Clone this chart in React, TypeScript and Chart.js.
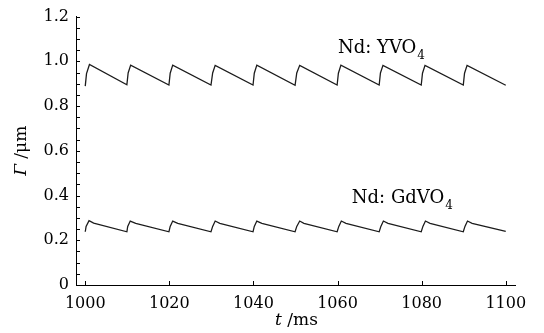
import { useEffect, useRef } from "react";
import { Chart, registerables } from "chart.js";

Chart.register(...registerables);

// ---- data ----
const yvoTimes = [
  1000.0, 1000.3, 1001.0, 1009.9, 1010.2, 1010.8, 1019.9, 1020.2, 1020.8,
  1029.9, 1030.3, 1030.9, 1039.9, 1040.2, 1040.8, 1049.9, 1050.3, 1051.0,
  1059.9, 1060.2, 1060.8, 1069.9, 1070.2, 1070.8, 1079.9, 1080.2, 1080.8,
  1089.9, 1090.2, 1090.8, 1100.0,
];
const yvoValues = [
  0.889, 0.945, 0.986, 0.895, 0.948, 0.983, 0.894, 0.947, 0.983,
  0.894, 0.948, 0.982, 0.894, 0.947, 0.983, 0.893, 0.948, 0.982,
  0.894, 0.947, 0.983, 0.894, 0.948, 0.982, 0.894, 0.947, 0.982,
  0.894, 0.947, 0.982, 0.893,
];

const gdvoTimes = [
  1000.0, 1000.2, 1000.9, 1002.0, 1009.9, 1010.1, 1010.7, 1012.0,
  1019.9, 1020.2, 1020.8, 1022.0, 1029.9, 1030.3, 1030.9, 1032.0,
  1039.9, 1040.2, 1040.8, 1042.0, 1049.9, 1050.3, 1051.0, 1052.0,
  1059.9, 1060.3, 1060.9, 1062.0, 1069.9, 1070.3, 1070.9, 1072.0,
  1079.9, 1080.3, 1080.9, 1082.0, 1089.9, 1090.3, 1090.9, 1092.0,
  1100.0,
];
const gdvoValues = [
  0.238, 0.262, 0.288, 0.277, 0.238, 0.262, 0.286, 0.276,
  0.238, 0.262, 0.286, 0.276, 0.238, 0.262, 0.286, 0.276,
  0.238, 0.262, 0.286, 0.276, 0.238, 0.262, 0.286, 0.276,
  0.238, 0.262, 0.286, 0.276, 0.238, 0.262, 0.286, 0.276,
  0.238, 0.262, 0.286, 0.276, 0.238, 0.262, 0.286, 0.276,
  0.240,
];

const xTickValues = [1000, 1020, 1040, 1060, 1080, 1100];
const yTickValues = [0, 0.2, 0.4, 0.6, 0.8, 1.0, 1.2];
const yTickLabels = ["0", "0.2", "0.4", "0.6", "0.8", "1.0", "1.2"];
const yMinorTickValues = [
  0, 0.05, 0.1, 0.15, 0.2, 0.25, 0.3, 0.35, 0.4, 0.45, 0.5, 0.55, 0.6,
  0.65, 0.7, 0.75, 0.8, 0.85, 0.9, 0.95, 1.0, 1.05, 1.1, 1.15, 1.2,
];

const yvoLabel = { main: "Nd: YVO", sub: "4", t: 1060.1, v: 1.036 };
const gdvoLabel = { main: "Nd: GdVO", sub: "4", t: 1063.4, v: 0.368 };

const xRange = { min: 997.8, max: 1102.2 };
const yRange = { min: 0, max: 1.2 };

const SERIF = "'DejaVu Serif', serif";

const decorPlugin = {
  id: "decor",
  afterDraw(chart: any) {
    const { ctx, chartArea } = chart;
    const x = chart.scales.x;
    const y = chart.scales.y;
    ctx.save();
    // inward ticks
    ctx.strokeStyle = "#000";
    ctx.lineWidth = 1;
    ctx.beginPath();
    for (const v of xTickValues) {
      const px = Math.round(x.getPixelForValue(v)) + 0.5;
      ctx.moveTo(px, chartArea.bottom);
      ctx.lineTo(px, chartArea.bottom - 4);
    }
    for (const v of yMinorTickValues) {
      const py = Math.round(y.getPixelForValue(v)) + 0.5;
      ctx.moveTo(chartArea.left, py);
      ctx.lineTo(chartArea.left + 4, py);
    }
    ctx.stroke();

    ctx.fillStyle = "#000";
    ctx.textBaseline = "alphabetic";

    // series labels
    const drawLabel = (lab: any) => {
      const px = x.getPixelForValue(lab.t);
      const py = y.getPixelForValue(lab.v);
      ctx.font = `18px ${SERIF}`;
      ctx.textAlign = "left";
      ctx.fillText(lab.main, px, py);
      const w = ctx.measureText(lab.main).width;
      ctx.font = `12px ${SERIF}`;
      ctx.fillText(lab.sub, px + w + 1, py + 6);
    };
    drawLabel(yvoLabel);
    drawLabel(gdvoLabel);

    // x axis title: italic t + " /ms"
    {
      ctx.font = `italic 17px ${SERIF}`;
      const a = "t";
      const wa = ctx.measureText(a).width;
      ctx.font = `17px ${SERIF}`;
      const b = " /ms";
      const wb = ctx.measureText(b).width;
      const cx = (chartArea.left + chartArea.right) / 2 + 1;
      const start = cx - (wa + wb) / 2;
      const base = 325;
      ctx.font = `italic 17px ${SERIF}`;
      ctx.fillText(a, start, base);
      ctx.font = `17px ${SERIF}`;
      ctx.fillText(b, start + wa, base);
    }
    // y axis title: italic Γ + " /μm", rotated
    {
      ctx.save();
      ctx.translate(26, (chartArea.top + chartArea.bottom) / 2);
      ctx.rotate(-Math.PI / 2);
      ctx.font = `italic 17px ${SERIF}`;
      const a = "Γ";
      const wa = ctx.measureText(a).width;
      ctx.font = `17px ${SERIF}`;
      const b = " /μm";
      const wb = ctx.measureText(b).width;
      const start = -(wa + wb) / 2;
      ctx.font = `italic 17px ${SERIF}`;
      ctx.fillText(a, start, 0);
      ctx.font = `17px ${SERIF}`;
      ctx.fillText(b, start + wa, 0);
      ctx.restore();
    }
    ctx.restore();
  },
};

export default function App() {
  const ref = useRef<HTMLCanvasElement | null>(null);
  useEffect(() => {
    const canvas = ref.current;
    if (!canvas) return;
    const chart = new Chart(canvas, {
      type: "line",
      data: {
        datasets: [
          {
            label: "Nd: YVO4",
            data: yvoTimes.map((t, i) => ({ x: t, y: yvoValues[i] })),
            borderColor: "#1c1c1c",
            borderWidth: 1.3,
            pointRadius: 0,
            tension: 0,
            fill: false,
          },
          {
            label: "Nd: GdVO4",
            data: gdvoTimes.map((t, i) => ({ x: t, y: gdvoValues[i] })),
            borderColor: "#1c1c1c",
            borderWidth: 1.3,
            pointRadius: 0,
            tension: 0,
            fill: false,
          },
        ],
      },
      options: {
        animation: false,
        responsive: false,
        devicePixelRatio: 1,
        layout: { padding: { top: 15, right: 29, left: 0, bottom: 0 } },
        plugins: {
          legend: { display: false },
          tooltip: { enabled: false },
        },
        scales: {
          x: {
            type: "linear",
            min: xRange.min,
            max: xRange.max,
            grid: { display: false, drawTicks: false },
            border: { display: true, color: "#000", width: 1 },
            afterBuildTicks: (scale: any) => {
              scale.ticks = xTickValues.map((v) => ({ value: v }));
            },
            afterFit: (scale: any) => {
              scale.height = 48;
            },
            ticks: {
              autoSkip: false,
              maxRotation: 0,
              padding: 9,
              color: "#000",
              font: { family: SERIF, size: 16 },
              callback: (v: any) => String(v),
            },
          },
          y: {
            type: "linear",
            min: yRange.min,
            max: yRange.max,
            grid: { display: false, drawTicks: false },
            border: { display: true, color: "#000", width: 1 },
            afterBuildTicks: (scale: any) => {
              scale.ticks = yTickValues.map((v) => ({ value: v }));
            },
            afterFit: (scale: any) => {
              scale.width = 76;
            },
            ticks: {
              autoSkip: false,
              padding: 7,
              color: "#000",
              font: { family: SERIF, size: 16 },
              callback: (v: any) => {
                const i = yTickValues.findIndex((t) => Math.abs(t - v) < 1e-9);
                return i >= 0 ? yTickLabels[i] : "";
              },
            },
          },
        },
      },
      plugins: [decorPlugin],
    } as any);
    return () => chart.destroy();
  }, []);
  return (
    <div style={{ position: "fixed", left: 0, top: 0, width: 544, height: 333, background: "#fff" }}>
      <canvas ref={ref} width={544} height={333} style={{ width: 544, height: 333, display: "block" }} />
    </div>
  );
}
